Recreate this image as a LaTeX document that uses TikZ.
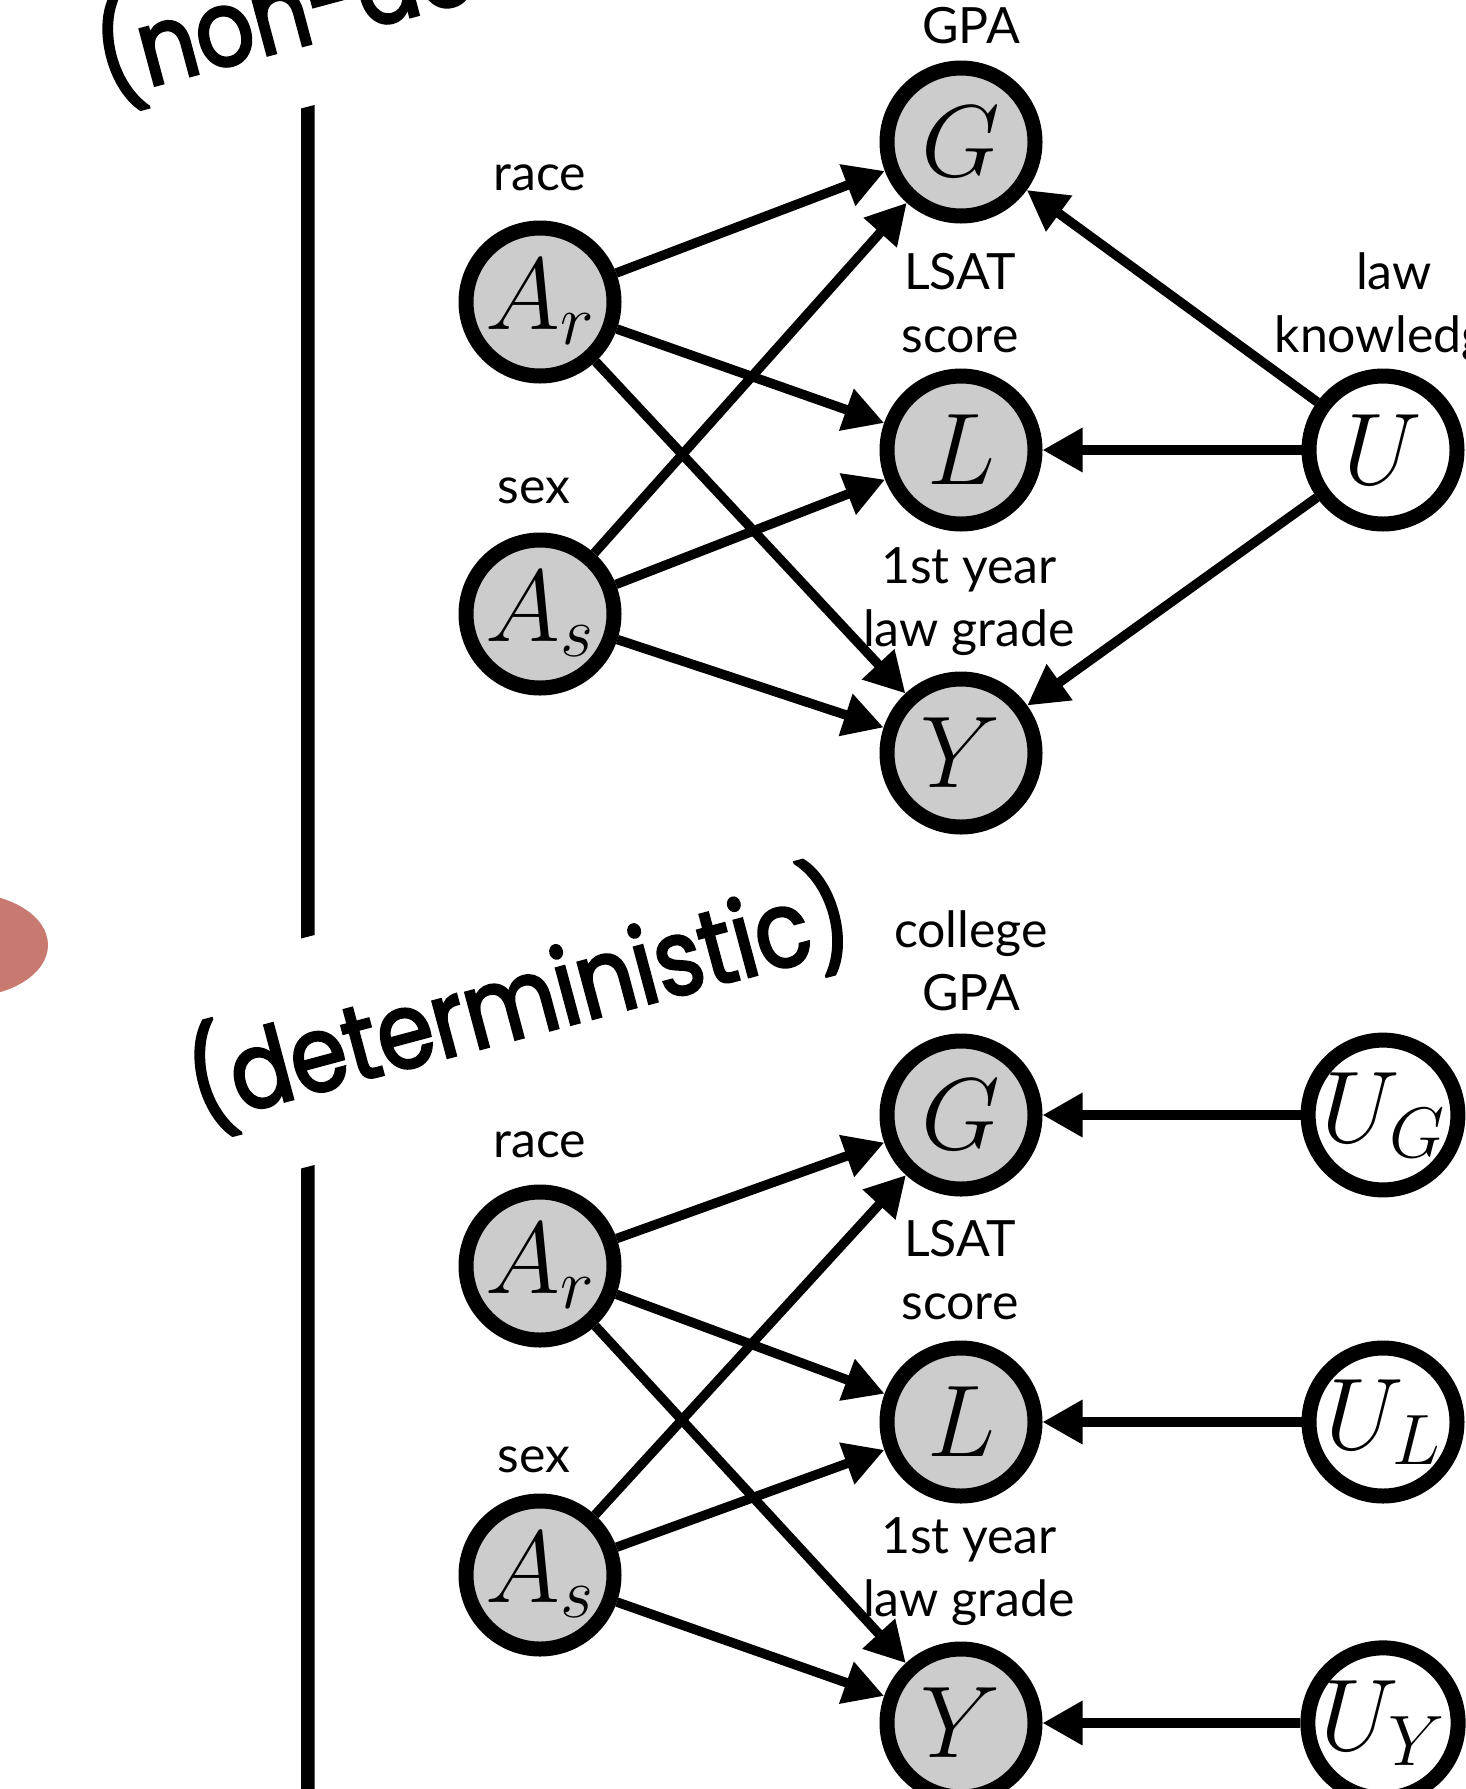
\RequirePackage{fix-cm}
\documentclass[tikz,border=0pt]{standalone}
\usepackage{fontspec}
\usetikzlibrary{arrows.meta}
\newfontfamily\latofam{Lato}
\newfontfamily\popfam{Poppins}[FakeStretch=0.86, FakeBold=2.5]
\newcommand\nodemathsize{\fontsize{102}{110}\selectfont}
\newcommand\labelfnt{\latofam\fontsize{50}{63}\selectfont}
\newcommand\slantfnt{\popfam\fontsize{106}{110}\selectfont}
\definecolor{salmonred}{RGB}{200,122,112}
\tikzset{
  var/.style={circle, draw=black, line width=15pt, fill=black!20, minimum size=148pt, inner sep=0pt, font=\nodemathsize},
  lat/.style={var, fill=white},
  edge/.style={line width=9.5pt, -{Triangle[length=40pt,width=42pt]}},
  lab/.style={font=\labelfnt, align=center, anchor=base, inner sep=0pt},
  slanttext/.style={font=\slantfnt, anchor=base west, inner sep=0pt, rotate=15},
}
\begin{document}
\begin{tikzpicture}[x=1pt,y=-1pt]
\useasboundingbox (0,0) rectangle (1466,1789);
\clip (0,0) rectangle (1466,1789);
% background decorations
\fill[salmonred] (-35,945) ellipse [x radius=83pt, y radius=52pt];
\fill (301,108.5) -- (314.5,105) -- (314.5,935) -- (301,938.5) -- cycle;
\fill (301,1168.5) -- (314.5,1165) -- (314.5,1800) -- (301,1800) -- cycle;
\node[slanttext] (nondet) at (108,98) {(non-deterministic)};
\node[slanttext] (det) at (200,1124) {(deterministic)};
% top graph
\node[var] (G1) at (961,142) {$G$};
\node[var] (L1) at (961,450) {$L$};
\node[var] (Y1) at (961,753) {$Y$};
\node[var] (Ar1) at (540,302) {$A_r$};
\node[var] (As1) at (540,614) {$A_s$};
\node[lat] (U1) at (1383,450) {$U$};
\node[lab] (gpa1) at (971,43) {GPA};
\node[lab] (race1) at (540,190) {race};
\node[lab] (sex1) at (534,503) {sex};
\node[lab] (lsat1) at (960,352) {LSAT\\score};
\node[lab] (law1) at (969,646) {1st year\\law grade};
\node[lab] (know1) at (1394,352) {law\\knowledge};
\foreach \a in {Ar1,As1}{
  \foreach \b in {G1,L1,Y1}{
    \draw[edge] (\a) -- (\b);
  }
}
\foreach \b in {G1,L1,Y1}{
  \draw[edge] (U1) -- (\b);
}
% bottom graph
\node[var] (G2) at (961,1115) {$G$};
\node[var] (L2) at (961,1422) {$L$};
\node[var] (Y2) at (961,1723) {$Y$};
\node[var] (Ar2) at (540,1266) {$A_r$};
\node[var] (As2) at (540,1575) {$A_s$};
\node[lat] (UG) at (1383,1115) {$U_G$};
\node[lat] (UL) at (1383,1422) {$U_L$};
\node[lat] (UY) at (1383,1723) {$U_Y$};
\node[lab] (gpa2) at (971,1010) {college\\GPA};
\node[lab] (race2) at (540,1157) {race};
\node[lab] (sex2) at (534,1472) {sex};
\node[lab] (lsat2) at (960,1319) {LSAT\\score};
\node[lab] (law2) at (969,1616) {1st year\\law grade};
\foreach \a in {Ar2,As2}{
  \foreach \b in {G2,L2,Y2}{
    \draw[edge] (\a) -- (\b);
  }
}
\draw[edge] (UG) -- (G2);
\draw[edge] (UL) -- (L2);
\draw[edge] (UY) -- (Y2);
\end{tikzpicture}
\end{document}
